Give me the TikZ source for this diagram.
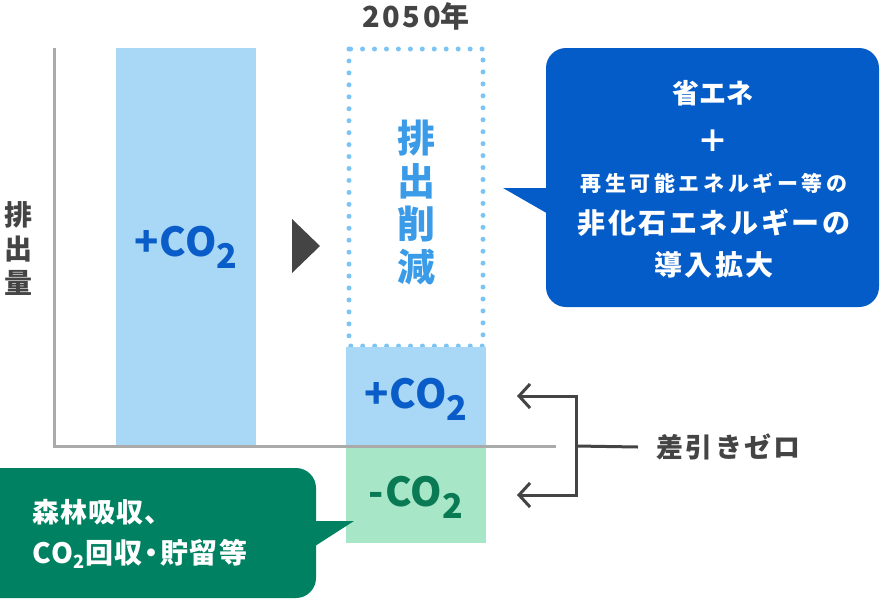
\documentclass[tikz,border=0pt]{standalone}
\usepackage{fontspec}
\setmainfont{Noto Sans CJK JP}
\usepackage{tikz}
\usetikzlibrary{arrows.meta}
\definecolor{barblue}{HTML}{A8D8F6}
\definecolor{co2blue}{HTML}{0A5CC8}
\definecolor{dotblue}{HTML}{7CC4F4}
\definecolor{cutblue}{HTML}{3A9BE8}
\definecolor{callblue}{HTML}{045CC8}
\definecolor{bargreen}{HTML}{A8E6C8}
\definecolor{co2green}{HTML}{0A7A55}
\definecolor{callgreen}{HTML}{008262}
\definecolor{ink}{HTML}{444444}
\definecolor{axisgray}{HTML}{AAAAAA}
\newcommand{\pxsize}[1]{\fontsize{#1}{#1}\selectfont}
\newcommand{\cotwo}[2]{CO\raisebox{#2}{\scalebox{#1}{2}}}
\tikzset{
  axis/.style={draw=axisgray, line width=3pt},
  co2lbl/.style={font=\pxsize{40}\bfseries\addfontfeatures{LetterSpace=2}, inner sep=0pt},
  vlbl/.style={align=center, inner sep=0pt},
  calltxt/.style={text=white, inner sep=0pt},
  brk/.style={draw=ink, line width=3pt, line join=miter},
  barb/.tip={Straight Barb[length=11pt, width=24pt, line width=3pt]},
}
\begin{document}
\begin{tikzpicture}[x=1pt, y=-1pt, every node/.style={font=\bfseries}]
\useasboundingbox (0,0) rectangle (880,600);
% ---- axes ----
\draw[axis] (54,48) -- (54,446) -- (556,446);
\node[vlbl, text=ink, font=\fontsize{28}{34}\selectfont\bfseries] (amount) at (19,249) {排\\出\\量};
% ---- today ----
\fill[barblue] (116,48) rectangle (256,444.5);
\node[co2lbl, text=co2blue] (nowco2) at (186,247) {+\cotwo{0.85}{-0.3em}};
\fill[ink] (292,219) -- (292,273) -- (320,246) -- cycle;
% ---- 2050 ----
\node[text=ink, font=\pxsize{29}\bfseries] (year) at (416,16) {{\addfontfeatures{LetterSpace=9}2050}年};
\draw[dotblue, line width=5pt, line cap=round, dash pattern=on 0pt off 11.95pt] (349,49) rectangle (483,346);
\node[vlbl, text=cutblue, font=\fontsize{38}{43}\selectfont\bfseries] (cut) at (416,202) {排\\出\\削\\減};
\fill[barblue] (346,347) rectangle (486,444.5);
\node[co2lbl, text=co2blue] (restco2) at (416,399) {+\cotwo{0.85}{-0.3em}};
\fill[bargreen] (346,447.5) rectangle (486,543);
\node[co2lbl, text=co2green] (sinkco2) at (416,497) {-\cotwo{0.85}{-0.3em}};
% ---- net zero bracket ----
\coordinate (upTip) at (517,396);
\coordinate (loTip) at (517,495);
\coordinate (spine) at (576,446);
\draw[brk, barb-barb] (upTip) -- (spine |- upTip) -- (spine |- loTip) -- (loTip);
\node[anchor=west, inner sep=0pt, text=ink, font=\pxsize{27}\bfseries\addfontfeatures{LetterSpace=9}] (zero) at (656,447) {差引きゼロ};
\draw[brk] (zero.west) ++(-18,0) -- (spine);
% ---- blue callout ----
\fill[callblue, rounded corners=20pt] (546,48) rectangle (879,307);
\fill[callblue] (550,188) -- (503,188) -- (550,215) -- cycle;
\node[calltxt, font=\pxsize{27}\bfseries] (saving) at (713,93) {省エネ};
\node[calltxt, font=\pxsize{31}\bfseries] (plus) at (713,141) {＋};
\node[calltxt, font=\pxsize{21}\bfseries\addfontfeatures{LetterSpace=17}] (renew) at (714,183) {再生可能エネルギー等の};
\node[calltxt, font=\pxsize{28}\bfseries\addfontfeatures{LetterSpace=9}] (nonfossil) at (714,223) {非化石エネルギーの};
\node[calltxt, font=\pxsize{28}\bfseries\addfontfeatures{LetterSpace=9}] (expand) at (714,265) {導入拡大};
% ---- green callout ----
\fill[callgreen, rounded corners=20pt] (-20,468) rectangle (316,598);
\fill[callgreen] (312,521) -- (354,521) -- (312,548) -- cycle;
\node[calltxt, anchor=west, font=\pxsize{27}\bfseries\addfontfeatures{LetterSpace=4}] (forest) at (32,512) {森林吸収、};
\node[calltxt, anchor=west, font=\pxsize{28}\bfseries] (ccs) at (32,554) {{\addfontfeatures{LetterSpace=8}\cotwo{0.65}{-0.2em}}{\addfontfeatures{RawFeature=+palt,LetterSpace=6}回収・貯留等}};
\end{tikzpicture}
\end{document}
